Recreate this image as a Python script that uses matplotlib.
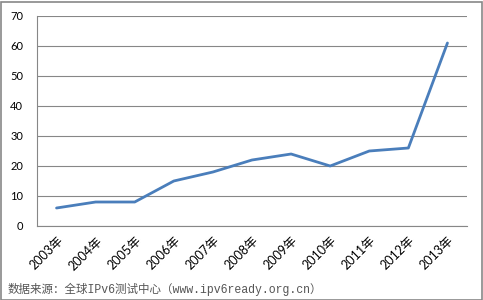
import matplotlib.pyplot as plt
from matplotlib.patches import Rectangle

# 数据
years = ['2003年', '2004年', '2005年', '2006年', '2007年', '2008年',
         '2009年', '2010年', '2011年', '2012年', '2013年']
values = [6, 8, 8, 15, 18, 22, 24, 20, 25, 26, 61]
yticks = [0, 10, 20, 30, 40, 50, 60, 70]
source = '数据来源：全球IPv6测试中心（www.ipv6ready.org.cn）'

plt.rcParams['font.family'] = ['Lato', 'Noto Sans CJK SC', 'DejaVu Sans']

W, H = 483, 300
fig = plt.figure(figsize=(W / 100, H / 100), dpi=100)
# 绘图区位置（像素换算）
ax = fig.add_axes([37 / W, 1 - 226 / H, (467 - 37) / W, (226 - 16) / H])

x = list(range(len(years)))
ax.plot(x, values, color='#4a7ebb', linewidth=2.0, solid_capstyle='round',
        solid_joinstyle='round', zorder=3)

ax.set_xlim(-0.5, len(years) - 0.5)
ax.set_ylim(0, 70)
ax.set_yticks(yticks)
ax.set_yticklabels([str(v) for v in yticks], fontsize=8, color='#000000')
ax.set_xticks(x)
ax.set_xticklabels(years, fontsize=9, rotation=45, ha='right', va='top',
                   rotation_mode='anchor',
                   family=['Lato', 'Noto Sans CJK SC'])
ax.tick_params(axis='both', length=0)
ax.tick_params(axis='y', pad=10)
ax.tick_params(axis='x', pad=6)

ax.grid(axis='y', color='#878787', linewidth=0.8)
ax.set_axisbelow(True)
for side in ['top', 'right']:
    ax.spines[side].set_visible(False)
for side in ['left', 'bottom']:
    ax.spines[side].set_color('#878787')
    ax.spines[side].set_linewidth(0.8)

# 数据来源
fig.text(8 / W, 1 - 289 / H, source, fontsize=8.3, color='#555555',
         family=['Liberation Mono', 'Noto Sans CJK SC'], va='center', ha='left')

# 外边框
fig.patches.append(Rectangle((0.5 / W, 0.5 / H), (W - 2) / W, (H - 2) / H,
                             transform=fig.transFigure, fill=False,
                             edgecolor='#878787', linewidth=1.2))

fig.savefig('out.png', dpi=100)
